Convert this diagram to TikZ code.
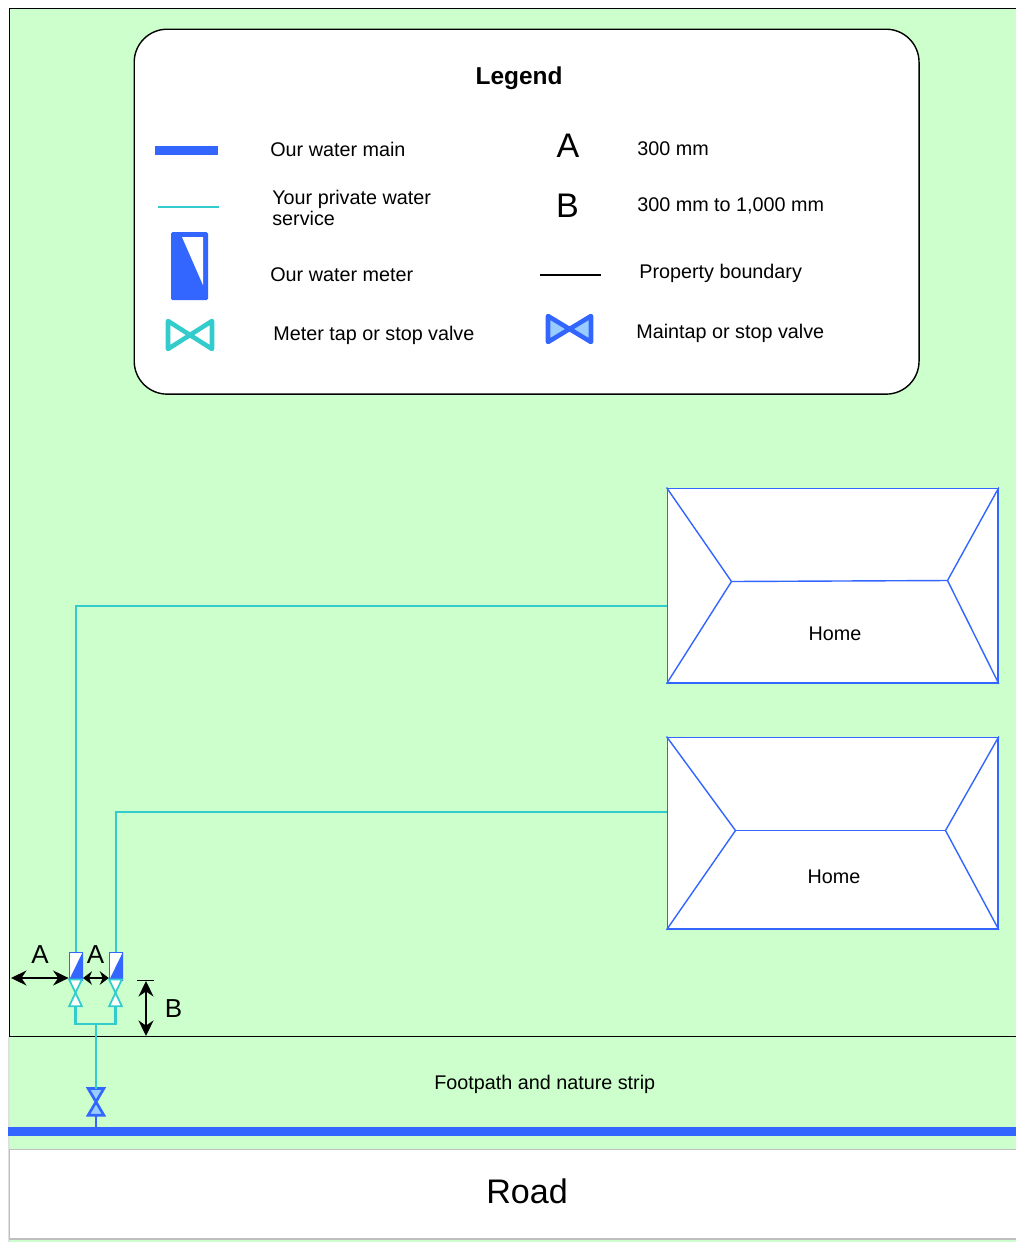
\documentclass[tikz,border=0pt]{standalone}
\usepackage{fontspec}
\setmainfont{Liberation Sans}
\definecolor{grassGreen}{HTML}{CCFFCC}
\definecolor{mainBlue}{HTML}{3366FF}
\definecolor{serviceCyan}{HTML}{33CCCC}
\definecolor{valveBlue}{HTML}{99CCFF}
\tikzset{
  labelStyle/.style={anchor=west, inner sep=0pt, font=\fontsize{11.25}{12.4}\selectfont, align=left},
  bigStyle/.style={inner sep=0pt, font=\fontsize{19.4}{22}\selectfont},
  dimStyle/.style={inner sep=0pt, font=\fontsize{14.8}{16}\selectfont},
  homeStyle/.style={rectangle, draw=mainBlue, fill=white, line width=0.8pt, inner sep=0pt},
  meterStyle/.style={rectangle, draw=mainBlue, fill=white, line width=0.8pt, inner sep=0pt, minimum width=0.26cm, minimum height=0.56cm},
  valveStyle/.style={rectangle, inner sep=0pt, minimum width=0.24cm, minimum height=0.52cm},
  serviceStyle/.style={draw=serviceCyan, line width=1.25pt},
  roofStyle/.style={draw=mainBlue, line width=0.8pt},
  dimArrow/.style={draw=black, line width=0.9pt, {Stealth[length=0.31cm,width=0.3cm]}-{Stealth[length=0.31cm,width=0.3cm]}},
  tightArrow/.style={draw=black, line width=0.9pt, {Stealth[length=0.18cm,width=0.27cm]}-{Stealth[length=0.18cm,width=0.27cm]}}
}
\usetikzlibrary{arrows.meta}
\begin{document}
\begin{tikzpicture}[x=0.02cm, y=-0.02cm]
  \useasboundingbox (0,0) rectangle (1016,1242);
  % ground
  \fill[grassGreen] (9.5,8.5) rectangle (1016,1242);
  \fill[black!12] (8,1037) rectangle (9.5,1242);
  \node[rectangle, draw=black!25, fill=white, line width=0.9pt, inner sep=0pt, minimum width=20.4cm, minimum height=1.8cm, anchor=north west] (road) at (8.5,1148.5) {};
  \node[bigStyle] (roadText) at (527,1191.5) {Road};
  \coordinate (boundTR) at (1016,8.5);
  \coordinate (boundTL) at (9.5,8.5);
  \coordinate (boundBL) at (9.5,1036.5);
  \coordinate (boundBR) at (1016,1036.5);
  \draw[black, line width=0.6pt] (boundTR) -- (boundTL) -- (boundBL) -- (boundBR);
  \node[labelStyle] (footText) at (434,1084) {Footpath and nature strip};

  % legend
  \node[rectangle, rounded corners=0.66cm, draw=black, fill=white, line width=0.8pt, minimum width=15.7cm, minimum height=7.3cm, anchor=north west] (legend) at (133.5,28.5) {};
  \node[inner sep=0pt, font=\bfseries\fontsize{13.9}{16}\selectfont] (legendTitle) at (519,78) {Legend};
  \fill[mainBlue] (155,146) rectangle (218,155);
  \node[labelStyle] (mainText) at (270,149) {Our water main};
  \draw[serviceCyan, line width=1.3pt] (158,207) -- (219,207);
  \node[labelStyle] (serviceText) at (272,208) {Your private water\\service};
  \fill[mainBlue, rounded corners=0.03cm] (171,232) rectangle (208,300);
  \fill[white] (182,237) -- (203,237) -- (203,285) -- cycle;
  \node[labelStyle] (meterText) at (270,274.5) {Our water meter};
  \draw[serviceCyan, line width=2.6pt, line join=round] (168,321) -- (212,349) -- (212,321) -- (168,349) -- cycle;
  \node[labelStyle] (tapText) at (273,335) {Meter tap or stop valve};
  \node[bigStyle] (aKey) at (568,146) {A};
  \node[labelStyle] (aText) at (637,149) {300 mm};
  \node[bigStyle] (bKey) at (567.5,205.5) {B};
  \node[labelStyle] (bText) at (637,206) {300 mm to 1,000 mm};
  \draw[black, line width=1.4pt] (540,275) -- (601,275);
  \node[labelStyle] (boundaryText) at (639,273) {Property boundary};
  \draw[mainBlue, fill=valveBlue, line width=2.6pt, line join=round] (548,316) -- (591,342) -- (591,316) -- (548,342) -- cycle;
  \node[labelStyle] (maintapText) at (636,333) {Maintap or stop valve};

  % homes
  \node[homeStyle, minimum width=6.62cm, minimum height=3.9cm, anchor=north west] (homeA) at (666.5,487.5) {};
  \coordinate (ridgeAL) at (731.5,581.5);
  \coordinate (ridgeAR) at (947.5,580.5);
  \draw[roofStyle] (homeA.north west) -- (ridgeAL) -- (homeA.south west);
  \draw[roofStyle] (homeA.north east) -- (ridgeAR) -- (homeA.south east);
  \draw[roofStyle] (ridgeAL) -- (ridgeAR);
  \node[labelStyle, anchor=center] (homeAText) at (835,634) {Home};

  \node[homeStyle, minimum width=6.62cm, minimum height=3.84cm, anchor=north west] (homeB) at (666.5,736.5) {};
  \coordinate (ridgeBL) at (735.5,830.5);
  \coordinate (ridgeBR) at (945.5,830.5);
  \draw[roofStyle] (homeB.north west) -- (ridgeBL) -- (homeB.south west);
  \draw[roofStyle] (homeB.north east) -- (ridgeBR) -- (homeB.south east);
  \draw[roofStyle] (ridgeBL) -- (ridgeBR);
  \node[labelStyle, anchor=center] (homeBText) at (834,877) {Home};

  % meters
  \node[meterStyle, anchor=north] (meterA) at (75.8,951.5) {};
  \node[meterStyle, anchor=north] (meterB) at (116,951.5) {};
  \foreach \m in {meterA, meterB} {
    \fill[mainBlue] (\m.north east) -- (\m.south east) -- (\m.south west) -- cycle;
  }

  % valves
  \node[valveStyle, anchor=north] (tapA) at (75.5,979.5) {};
  \node[valveStyle, anchor=north] (tapB) at (115.5,979.5) {};
  \node[valveStyle, anchor=north, minimum width=0.3cm] (stopValve) at (96,1088.5) {};
  \foreach \v in {tapA, tapB} {
    \draw[serviceCyan, fill=white, line width=1pt] (\v.north west) -- (\v.north east) -- (\v.south west) -- (\v.south east) -- cycle;
  }
  \draw[mainBlue, fill=valveBlue, line width=1.5pt] (stopValve.north west) -- (stopValve.north east) -- (stopValve.south west) -- (stopValve.south east) -- cycle;

  % services
  \draw[serviceStyle] (meterA.north) |- (homeA.west |- 0,606);
  \draw[serviceStyle] (meterB.north) |- (homeB.west |- 0,812);
  \coordinate (teeJoin) at (96,1024);
  \draw[serviceStyle] (tapA.south) |- (teeJoin) -| (tapB.south);
  \draw[serviceStyle] (teeJoin) -- (stopValve.north);
  \fill[mainBlue] (8,1127) rectangle (1016,1136);
  \coordinate (mainTap) at (96,1127);
  \draw[mainBlue, line width=1.6pt] (stopValve.south) -- (mainTap);

  % dimensions
  \coordinate (boundA) at (11,978);
  \coordinate (barB) at (146,981);
  \coordinate (barBL) at (137,980.5);
  \coordinate (barBR) at (154,980.5);
  \coordinate (boundB) at (146,1036);
  \draw[dimArrow] (boundA) -- (meterA.south west |- boundA);
  \draw[tightArrow] (meterA.south east |- boundA) -- (meterB.south west |- boundA);
  \draw[dimArrow] (barB) -- (boundB);
  \draw[black, line width=0.8pt] (barBL) -- (barBR);
  \node[dimStyle] (dimA) at (40,955) {A};
  \node[dimStyle] (dimAA) at (95.5,955) {A};
  \node[dimStyle] (dimB) at (173.5,1008.5) {B};
\end{tikzpicture}
\end{document}
